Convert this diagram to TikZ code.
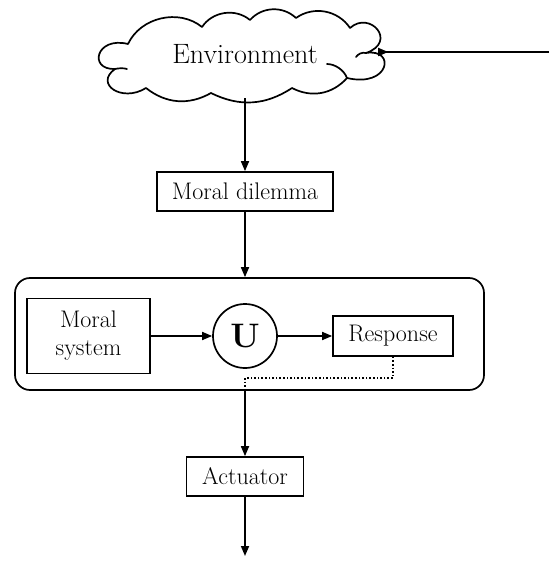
\documentclass[tikz,border=0pt]{standalone}
\usetikzlibrary{arrows.meta,calc}
\begin{document}
\begin{tikzpicture}[x=1pt,y=-1pt,
  box/.style={draw,line width=1.7pt,inner sep=0pt,font=\fontsize{24}{28}\selectfont},
  arr/.style={line width=1.7pt,-{Triangle[length=10pt,width=8pt]}},
  cloudline/.style={line width=1.7pt,line join=round,line cap=round},
  dots/.style={line width=1.4pt,dash pattern=on 1.6pt off 2pt}]
\useasboundingbox (0,0) rectangle (549,561);
% cloud notch points
\coordinate (a1) at (128,44);
\coordinate (a2) at (202,27);
\coordinate (a3) at (250,20);
\coordinate (a4) at (296,18);
\coordinate (a5) at (350,28);
\coordinate (a6) at (366,53);
\coordinate (a7) at (347,78);
\coordinate (a8) at (292,88);
\coordinate (a9) at (211,93);
\coordinate (a10) at (146,88);
\coordinate (a11) at (115,69);
\draw[cloudline]
  (a1) to[bend left=52] (a2)
  to[bend left=48] (a3)
  to[bend left=46] (a4)
  to[bend left=46] (a5)
  .. controls (370,10) and (398,42) .. (a6)
  .. controls (396,48) and (390,88) .. (a7)
  to[bend left=38] (a8)
  to[bend left=30] (a9)
  to[bend left=34] (a10)
  .. controls (122,103) and (94,84) .. (a11)
  .. controls (88,70) and (96,36) .. (a1) -- cycle;
% inner hooks
\draw[cloudline] (a6) .. controls ($(a6)+(-4,-1)$) and ($(a6)+(-8,1)$) .. ($(a6)+(-10,4)$);
\draw[cloudline] (a11) .. controls ($(a11)+(4,-1)$) and ($(a11)+(9,-1)$) .. ($(a11)+(12,0)$);
\draw[cloudline] (a7) .. controls ($(a7)+(-3,-8)$) and ($(a7)+(-12,-14)$) .. ($(a7)+(-20,-14)$);
\node[minimum width=280pt,minimum height=88pt,inner sep=0pt,font=\fontsize{28}{30}\selectfont] (env) at (245,54) {Environment};
\coordinate (in) at (549,52);
\node[box,minimum width=176pt,minimum height=39pt] (md) at (245,191.5) {Moral dilemma};
\node[draw,line width=1.7pt,rounded corners=15pt,minimum width=469pt,minimum height=112pt] (big) at (249.5,334) {};
\node[box,minimum width=123pt,minimum height=75pt,align=center] (ms) at (88.5,336) {Moral\\system};
\node[draw,circle,line width=1.7pt,minimum size=64pt,inner sep=0pt,font=\fontsize{34}{36}\selectfont\bfseries] (u) at (245,336) {U};
\node[box,minimum width=120pt,minimum height=40pt] (resp) at (393,336) {Response};
\node[box,minimum width=117pt,minimum height=39pt] (act) at (245,476.5) {Actuator};
\coordinate (j) at (245,378);
\coordinate (out) at (245,556);
\draw[arr] (in) -- (in -| env.east) -- ++(3,0);
\draw[arr] (env.south) -- (md.north);
\draw[arr] (md.south) -- (md.south |- big.north);
\draw[arr] (ms.east) -- (u.west);
\draw[arr] (u.east) -- (resp.west);
\draw[dots] (resp.south) |- (j) -- (j |- big.south);
\draw[arr] (j |- big.south) -- (act.north);
\draw[arr] (act.south) -- (out);
\end{tikzpicture}
\end{document}
